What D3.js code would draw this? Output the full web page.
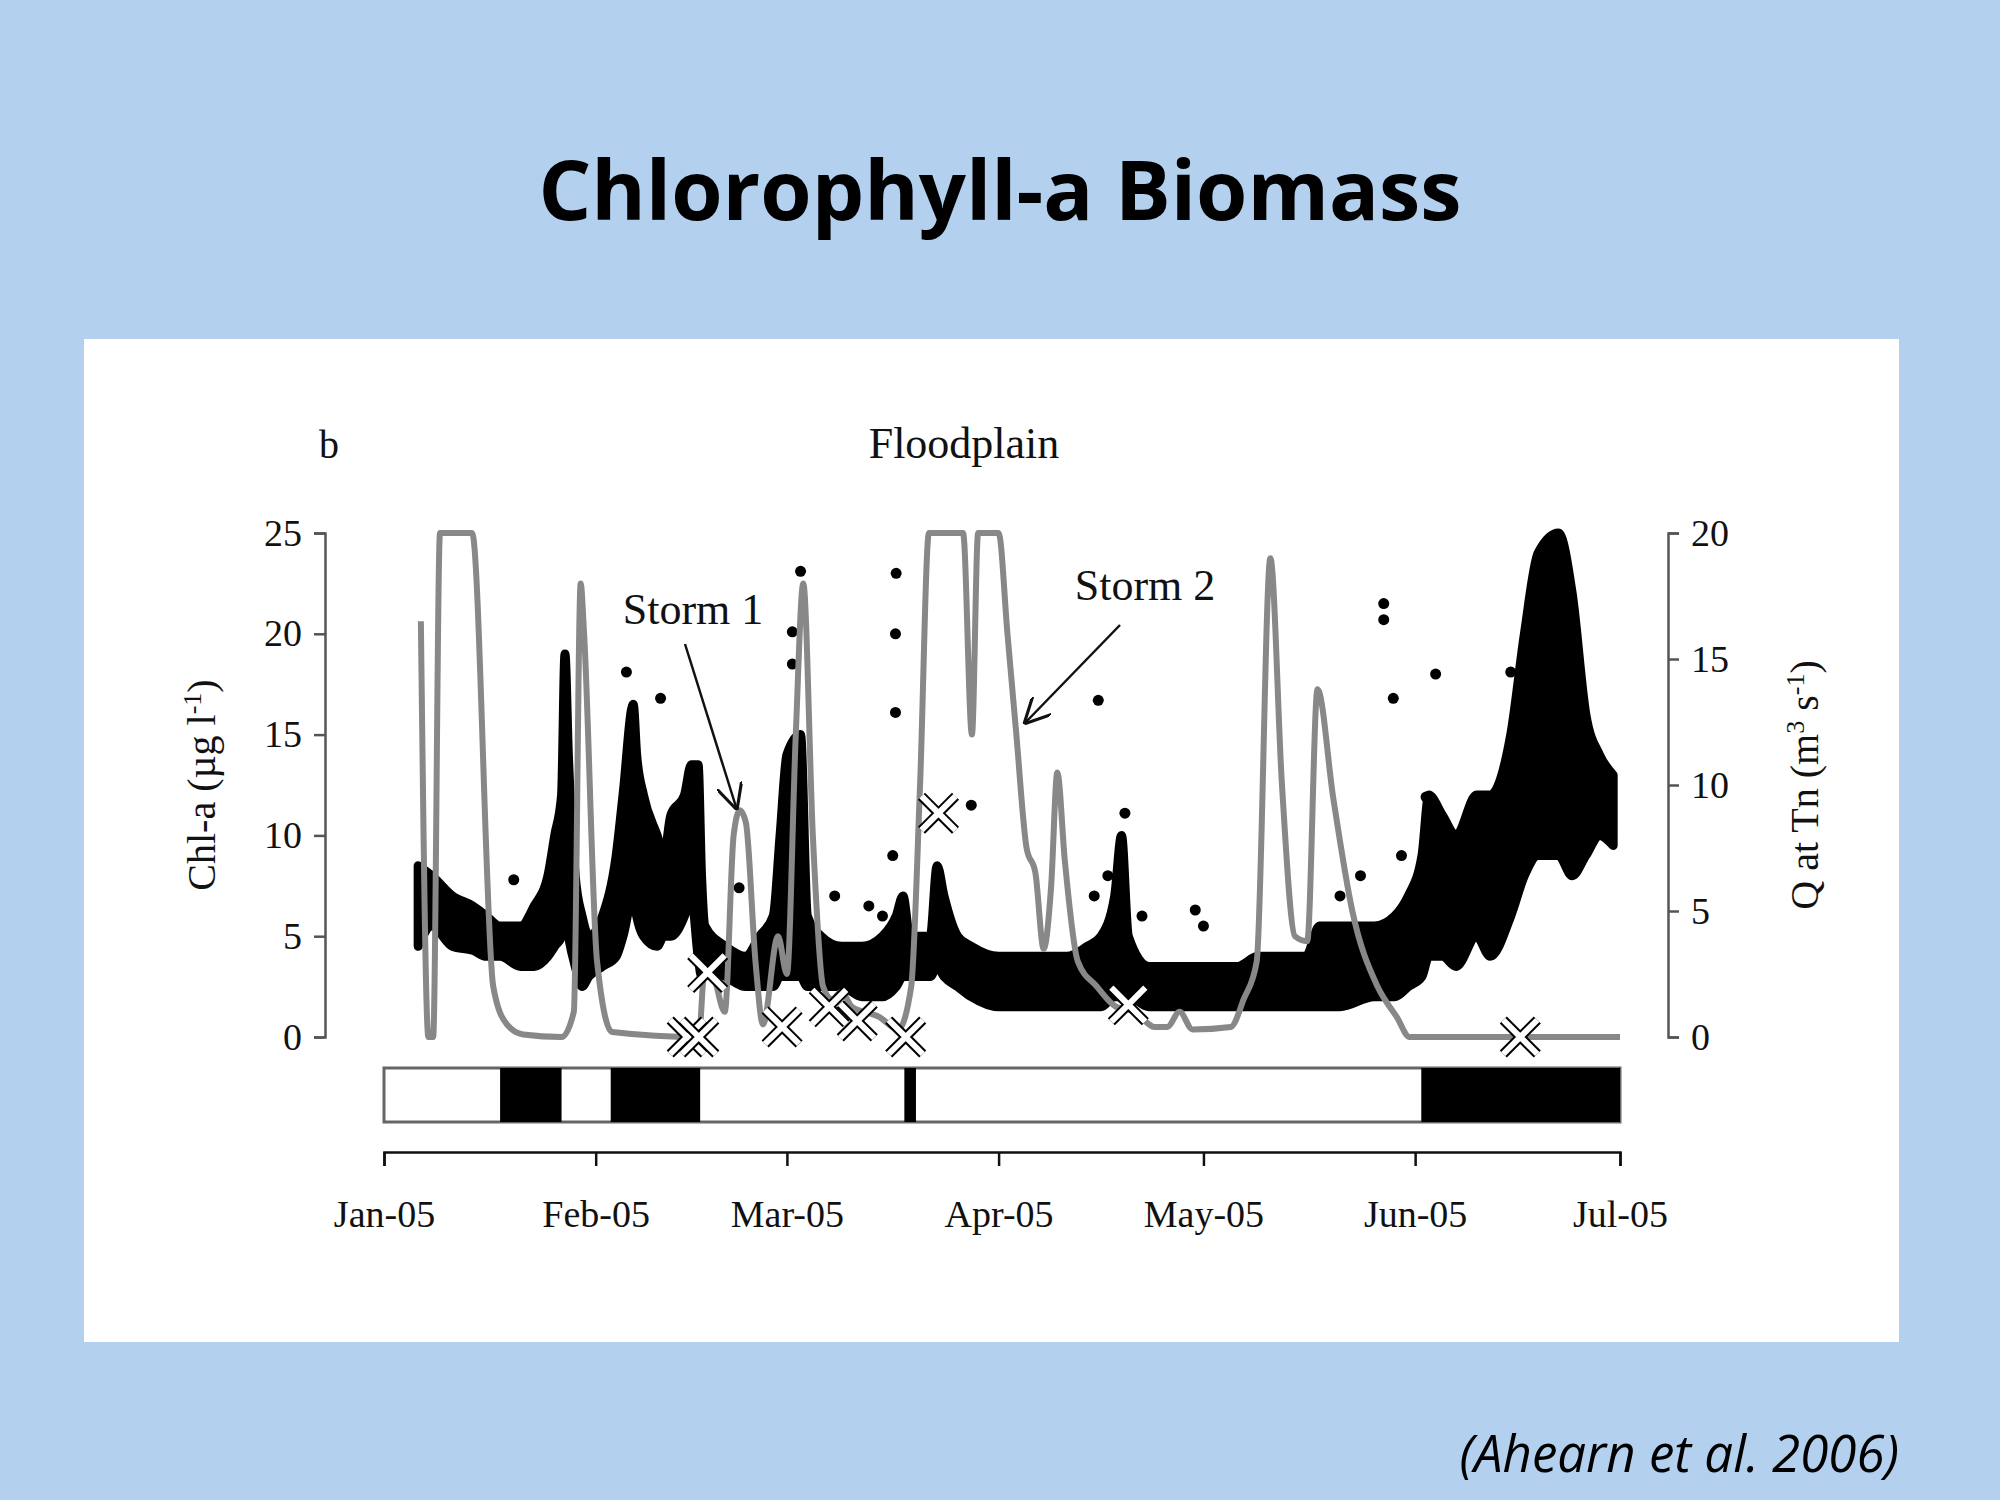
<!DOCTYPE html>
<html><head><meta charset="utf-8">
<script src="https://cdn.jsdelivr.net/npm/d3@7"></script>
<style>body{margin:0;background:#b3d0ef}</style></head>
<body><svg id="c" width="2000" height="1500"></svg>
<script>
const monthTicks=[0,31,59,90,120,151,181];
const monthLabels=["Jan-05","Feb-05","Mar-05","Apr-05","May-05","Jun-05","Jul-05"];
const leftTicks=[0,5,10,15,20,25];
const rightTicks=[0,5,10,15,20];
// Chl-a dense band: [day, low, high]
const chlBand=[[5,4.5,8.5],[7,5.5,8],[10,4.5,7],[13,4.3,6.5],[15,4,6],[17,4,5.5],[20,3.5,5.5],[22,3.5,6.5],[24,4,8],[25,4.5,10],[26,5,12],[26.5,6,19],[27,5,14],[28,3.5,8],[29,2.5,6],[30,3,5],[32,3.5,6],[34,4,9],[35,5,12],[36.5,7,16.5],[37,6,14],[38,5,12],[40,4.5,10],[41,5,9],[42,5,11],[44,6,12],[45,7,13.5],[46,4,13.5],[46.5,3,8],[47,3.5,5.5],[50,3,4.5],[53,2.5,4],[55,2.5,5],[57,2.5,6],[58,3,10],[59,3,14],[61,3,15],[62,2.5,6],[64,2.5,5],[67,2.5,4.5],[70,2,4.5],[73,2,5],[75,2.5,6],[76,3,7],[77,3,5],[80,3,5],[81,3.5,8.5],[82,3,7],[84,2.5,5],[86,2,4.5],[90,1.5,4],[95,1.5,4],[100,1.5,4],[103,1.5,4.5],[105,1.5,5],[107,2,7],[108,2,10],[109,2,5],[112,1.5,3.5],[118,1.5,3.5],[125,1.5,3.5],[128,1.5,4],[132,1.5,4],[135,1.5,4],[137,1.5,5.5],[140,1.5,5.5],[145,2,5.5],[148,2,6],[150,2.5,7],[152,3,9],[153,4,12],[155,4,11],[157,3.5,10],[160,5,12],[162,4,12],[165,6,15],[167,8,20],[169,9,24],[172,9,25],[174,8,22],[176,9,16],[178,10,14],[180,9.5,13]];
// isolated Chl-a points: [day, value]
const chlPoints=[[19,7.8],[35.5,18.1],[40.5,16.8],[59.8,20.1],[59.8,18.5],[61,23.1],[75,23],[74.9,20],[74.9,16.1],[74.5,9],[86,11.5],[104.6,16.7],[108.5,11.1],[118.8,6.3],[146.4,21.5],[146.4,20.7],[147.8,16.8],[152.6,11.9],[154,18],[165,18.1],[52,7.4],[66,7],[71,6.5],[73,6],[104,7],[106,8],[111,6],[120,5.5],[140,7],[143,8],[149,9]];
// Discharge Q: [day, Q]
const qLine=[[5.4,16.5],[6.5,0],[7.2,0],[8.2,20],[12.9,20],[16,2],[18,0.5],[20.4,0.1],[26,0],[27.8,1],[28.8,18],[29.3,16],[31.2,3],[33.4,0.2],[46.1,0],[46.9,2.5],[48,2.5],[49.9,1],[51.2,8],[52.1,9],[53,8.5],[54.4,3],[55.5,0.5],[57.7,4],[59,2.5],[60.3,12],[61.4,18],[62.8,8],[64.3,2],[65.6,1.5],[67,1.8],[68.5,1.2],[72.5,0.8],[75.3,0.3],[77.2,2],[78.5,10],[79.8,20],[84.8,20],[86.1,12],[87,20],[90,20],[91.3,16],[92.6,12],[94.1,7.5],[95.4,6.5],[96.6,3.5],[97.7,6],[98.6,10.5],[99.7,7],[101.6,3],[104.4,2],[107.2,1.2],[110,1],[112.8,0.4],[114.7,0.4],[116.5,1],[118.4,0.3],[124,0.4],[125.9,1.5],[127.8,3],[129.8,19],[131.5,10],[133.4,4],[135.2,3.8],[136.7,13.8],[139,9.5],[141.8,5],[145.5,2],[148.3,0.8],[150.2,0],[181,0]];
// sampling markers (Chl-a units): [day, value]
const xMarks=[[44.4,0],[46.1,0],[47.4,3.2],[58.3,0.5],[65.2,1.5],[69.3,0.8],[76.4,0],[81.2,11.1],[109,1.6],[166.4,0]];
// black periods in the status bar: [startDay, endDay]
const blackPeriods=[[17,26],[33.2,46.3],[76.2,77.9],[151.9,181]];

const svg=d3.select("#c");
svg.append("rect").attr("x",84).attr("y",339).attr("width",1815).attr("height",1003).attr("fill","#fff");
svg.append("text").attr("x",1000).attr("y",220).attr("text-anchor","middle").attr("font-family","Open Sans").attr("font-weight","bold").attr("font-size",83).text("Chlorophyll-a Biomass");
svg.append("text").attr("x",1899).attr("y",1472).attr("text-anchor","end").attr("font-family","Open Sans").attr("font-style","italic").attr("font-size",51).text("(Ahearn et al. 2006)");

const serif="Liberation Serif";
const x=d3.scaleLinear().domain([0,181]).range([384,1620]);
const yL=d3.scaleLinear().domain([0,25]).range([1037,533]);
const yR=d3.scaleLinear().domain([0,20]).range([1037,533]);

const gl=svg.append("g").attr("transform","translate(325,0)").call(d3.axisLeft(yL).tickValues(leftTicks).tickSize(11).tickPadding(12));
const gr=svg.append("g").attr("transform","translate(1668,0)").call(d3.axisRight(yR).tickValues(rightTicks).tickSize(11).tickPadding(12));
const gx=svg.append("g").attr("transform","translate(0,1152)").call(d3.axisBottom(x).tickValues(monthTicks).tickFormat((d,i)=>monthLabels[i]).tickSize(14).tickPadding(34));
[gl,gr,gx].forEach(g=>{g.select(".domain").attr("stroke","#555").attr("stroke-width",2.5);g.selectAll(".tick line").attr("stroke","#555").attr("stroke-width",2.5);g.selectAll("text").attr("font-family",serif).attr("font-size",38).attr("fill","#111");});
gx.select(".domain").attr("stroke","#111");gx.selectAll(".tick line").attr("stroke","#111");

svg.append("rect").attr("x",x(0)).attr("y",1068).attr("width",x(181)-x(0)).attr("height",54).attr("fill","#fff").attr("stroke","#666").attr("stroke-width",3);
svg.selectAll(".bp").data(blackPeriods).join("rect").attr("x",d=>x(d[0])).attr("y",1068).attr("width",d=>x(d[1])-x(d[0])).attr("height",54).attr("fill","#000");

svg.append("path").datum(chlBand).attr("d",d3.area().curve(d3.curveMonotoneX).x(d=>x(d[0])).y0(d=>yL(d[1])).y1(d=>yL(d[2]))).attr("fill","#000").attr("stroke","#000").attr("stroke-width",9).attr("stroke-linejoin","round");
svg.selectAll(".pt").data(chlPoints).join("circle").attr("cx",d=>x(d[0])).attr("cy",d=>yL(d[1])).attr("r",5.5).attr("fill","#000");

svg.append("path").datum(qLine).attr("d",d3.line().curve(d3.curveMonotoneX).x(d=>x(d[0])).y(d=>yR(d[1]))).attr("fill","none").attr("stroke","#888").attr("stroke-width",6).attr("stroke-linejoin","round");

const s=17;
const mg=svg.selectAll(".xm").data(xMarks).join("g").attr("transform",d=>`translate(${x(d[0])},${yL(d[1])})`);
[["#000",10],["#fff",6]].forEach(([c,w])=>{mg.append("path").attr("d",`M${-s},${-s}L${s},${s}M${-s},${s}L${s},${-s}`).attr("stroke",c).attr("stroke-width",w).attr("fill","none");});

const t=(xx,yy,txt,opt={})=>svg.append("text").attr("x",xx).attr("y",yy).attr("font-family",serif).attr("font-size",opt.fs||42).attr("text-anchor",opt.a||"middle").attr("fill","#111").text(txt);
t(329,458,"b",{fs:40});
t(964,458,"Floodplain",{fs:44});
t(693,624,"Storm 1",{fs:44});
t(1145,600,"Storm 2",{fs:44});
const defs=svg.append("defs");
defs.append("marker").attr("id","ah").attr("viewBox","0 0 10 10").attr("refX",10).attr("refY",5).attr("markerWidth",26).attr("markerHeight",26).attr("orient","auto").attr("markerUnits","userSpaceOnUse").append("path").attr("d","M0,0L10,5L0,10").attr("fill","none").attr("stroke","#111").attr("stroke-width",1.2);
svg.append("line").attr("x1",685).attr("y1",644).attr("x2",737).attr("y2",810).attr("stroke","#111").attr("stroke-width",2.5).attr("marker-end","url(#ah)");
svg.append("line").attr("x1",1120).attr("y1",625).attr("x2",1024).attr("y2",724).attr("stroke","#111").attr("stroke-width",2.5).attr("marker-end","url(#ah)");

const yl=svg.append("text").attr("transform","translate(215,785) rotate(-90)").attr("text-anchor","middle").attr("font-family",serif).attr("font-size",40).attr("fill","#111");
yl.append("tspan").text("Chl-a (µg l");yl.append("tspan").attr("dy",-14).attr("font-size",26).text("-1");yl.append("tspan").attr("dy",14).text(")");
const yr=svg.append("text").attr("transform","translate(1818,785) rotate(-90)").attr("text-anchor","middle").attr("font-family",serif).attr("font-size",40).attr("fill","#111");
yr.append("tspan").text("Q at Tn (m");yr.append("tspan").attr("dy",-14).attr("font-size",26).text("3");yr.append("tspan").attr("dy",14).text(" s");yr.append("tspan").attr("dy",-14).attr("font-size",26).text("-1");yr.append("tspan").attr("dy",14).text(")");
</script></body></html>
